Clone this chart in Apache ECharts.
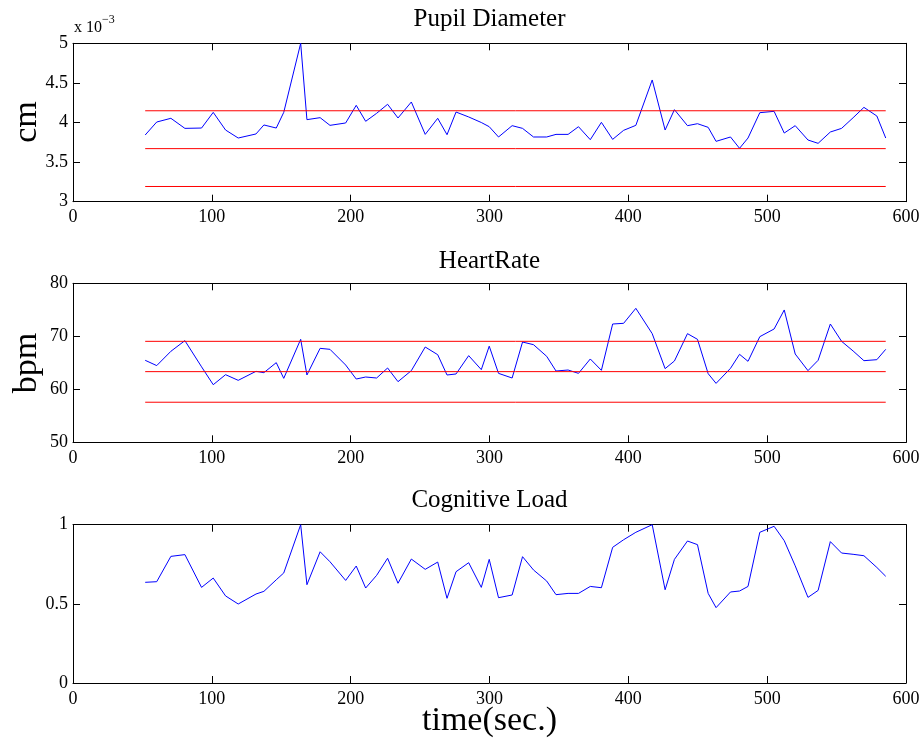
<!DOCTYPE html>
<html><head><meta charset="utf-8">
<script src="https://cdn.jsdelivr.net/npm/echarts@6/dist/echarts.min.js"></script>
<style>html,body{margin:0;padding:0;background:#fff}#c{width:924px;height:747px}</style>
</head><body><div id="c"></div>
<script>
// time stamps (seconds)
const timeSec = [52, 60.3, 70.5, 80.6, 92.6, 101, 109.9, 119, 131.8, 137.5, 146.4, 151.8, 164, 168.5, 178, 185.1, 196.4, 204, 210.8, 218.7, 226.6, 234.1, 243.7, 253.7, 262.7, 269.4, 275.9, 285, 294.1, 299.8, 306.5, 316.3, 323.8, 331.7, 341.2, 347.9, 356.6, 364.1, 372.6, 380.6, 388.7, 396.6, 405.4, 417.2, 426.5, 433.2, 442.6, 449.8, 457.5, 463.2, 473.6, 480.1, 486.2, 494.7, 505, 512.3, 520.2, 529.4, 536.7, 545.5, 553.6, 561.9, 569.7, 579, 585.4];
// pupil diameter, in units of 1e-3 cm
const pupilE3 = [3.842, 4.006, 4.053, 3.926, 3.930, 4.128, 3.905, 3.804, 3.855, 3.969, 3.930, 4.128, 5.00, 4.036, 4.061, 3.964, 3.994, 4.217, 4.015, 4.116, 4.230, 4.057, 4.259, 3.850, 4.053, 3.846, 4.132, 4.07, 4.00, 3.947, 3.817, 3.960, 3.926, 3.817, 3.817, 3.850, 3.850, 3.947, 3.783, 4.002, 3.787, 3.901, 3.964, 4.537, 3.905, 4.162, 3.960, 3.985, 3.939, 3.762, 3.817, 3.674, 3.804, 4.124, 4.141, 3.867, 3.960, 3.779, 3.737, 3.880, 3.926, 4.06, 4.191, 4.082, 3.804];
const heartRate = [65.47, 64.47, 67.17, 69.18, 64.24, 60.87, 62.76, 61.69, 63.39, 63.14, 65.03, 62.07, 69.43, 62.70, 67.73, 67.54, 64.58, 61.94, 62.32, 62.13, 64.02, 61.44, 63.52, 67.98, 66.53, 62.70, 62.89, 66.35, 63.71, 68.14, 63.01, 62.13, 68.92, 68.42, 66.22, 63.45, 63.64, 63.01, 65.72, 63.58, 72.32, 72.45, 75.28, 70.50, 63.90, 65.34, 70.50, 69.43, 62.95, 61.12, 63.96, 66.60, 65.28, 69.93, 71.38, 74.97, 66.66, 63.52, 65.47, 72.32, 69.05, 67.23, 65.40, 65.59, 67.54];
const cognitiveLoad = [0.636, 0.640, 0.800, 0.811, 0.604, 0.663, 0.550, 0.499, 0.562, 0.579, 0.652, 0.695, 1.0, 0.621, 0.829, 0.766, 0.648, 0.739, 0.600, 0.680, 0.788, 0.630, 0.783, 0.718, 0.764, 0.535, 0.703, 0.760, 0.604, 0.781, 0.539, 0.556, 0.798, 0.714, 0.644, 0.558, 0.566, 0.566, 0.610, 0.602, 0.857, 0.905, 0.952, 1.0, 0.589, 0.781, 0.897, 0.874, 0.566, 0.476, 0.575, 0.581, 0.610, 0.952, 0.990, 0.899, 0.740, 0.541, 0.585, 0.893, 0.821, 0.813, 0.804, 0.730, 0.674];
// reference levels (upper, mean, lower)
const pupilLimits = [4.148, 3.670, 3.192];
const heartLimits = [69.05, 63.33, 57.56];
// axis settings
const xRange = [0, 600, 100];
const pupilRange = [3, 5, 0.5];
const heartRange = [50, 80, 10];
const loadRange = [0, 1, 0.5];
const titles = ['Pupil Diameter', 'HeartRate', 'Cognitive Load'];
const yNames = ['cm', 'bpm', ''];
const xName = 'time(sec.)';

const FONT = 'Liberation Serif';
const grids = [
  {left: 73, top: 43.3, width: 833, height: 158.4},
  {left: 73, top: 283.3, width: 833, height: 159},
  {left: 73, top: 524.7, width: 833, height: 158.3}
];
const yRanges = [pupilRange, heartRange, loadRange];

const xAxes = [], yAxes = [], series = [];
const lineStyleAxis = {color: '#000', width: 1};
grids.forEach((g, i) => {
  xAxes.push({
    type: 'value', gridIndex: i, position: 'bottom',
    min: xRange[0], max: xRange[1], interval: xRange[2],
    axisLine: {show: true, onZero: false, lineStyle: lineStyleAxis},
    axisTick: {show: true, inside: true, length: 7, lineStyle: {color: '#000'}},
    axisLabel: {show: true, color: '#000', fontFamily: FONT, fontSize: 18, margin: 7},
    splitLine: {show: false}
  });
  xAxes.push({
    type: 'value', gridIndex: i, position: 'top',
    min: xRange[0], max: xRange[1], interval: xRange[2],
    axisLine: {show: true, onZero: false, lineStyle: lineStyleAxis},
    axisTick: {show: true, inside: true, length: 7, lineStyle: {color: '#000'}},
    axisLabel: {show: false}, splitLine: {show: false}
  });
  const r = yRanges[i];
  yAxes.push({
    type: 'value', gridIndex: i, position: 'left',
    min: r[0], max: r[1], interval: r[2],
    axisLine: {show: true, onZero: false, lineStyle: lineStyleAxis},
    axisTick: {show: true, inside: true, length: 7, lineStyle: {color: '#000'}},
    axisLabel: {show: true, color: '#000', fontFamily: FONT, fontSize: 18, margin: 5},
    splitLine: {show: false}
  });
  yAxes.push({
    type: 'value', gridIndex: i, position: 'right',
    min: r[0], max: r[1], interval: r[2],
    axisLine: {show: true, onZero: false, lineStyle: lineStyleAxis},
    axisTick: {show: true, inside: true, length: 7, lineStyle: {color: '#000'}},
    axisLabel: {show: false}, splitLine: {show: false}
  });
});

const dataSets = [pupilE3, heartRate, cognitiveLoad];
dataSets.forEach((vals, i) => {
  series.push({
    type: 'line', xAxisIndex: i * 2, yAxisIndex: i * 2,
    data: timeSec.map((t, k) => [t, vals[k]]),
    symbol: 'none', animation: false,
    lineStyle: {color: '#0000ff', width: 1}
  });
});
const t0 = timeSec[0], t1 = timeSec[timeSec.length - 1];
[[pupilLimits, 0], [heartLimits, 1]].forEach(([lims, i]) => {
  lims.forEach(v => {
    series.push({
      type: 'line', xAxisIndex: i * 2, yAxisIndex: i * 2,
      data: [[t0, v], [t1, v]],
      symbol: 'none', animation: false,
      lineStyle: {color: '#ff0000', width: 1}
    });
  });
});

const titleY = [19, 261, 500];
const graphics = [];
titles.forEach((t, i) => {
  graphics.push({type: 'text', x: 489.5, y: titleY[i],
    style: {text: t, fontFamily: FONT, fontSize: 25, fill: '#000', align: 'center', verticalAlign: 'middle'}});
});
const yNameY = [122, 363];
yNames.forEach((n, i) => {
  if (!n) return;
  graphics.push({type: 'text', x: 27, y: yNameY[i], rotation: Math.PI / 2,
    style: {text: n, fontFamily: FONT, fontSize: 34, fill: '#000', align: 'center', verticalAlign: 'middle'}});
});
graphics.push({type: 'text', x: 489.5, y: 721,
  style: {text: xName, fontFamily: FONT, fontSize: 34, fill: '#000', align: 'center', verticalAlign: 'middle'}});
graphics.push({type: 'text', x: 74, y: 28,
  style: {text: 'x 10', fontFamily: FONT, fontSize: 16, fill: '#000', align: 'left', verticalAlign: 'middle'}});
graphics.push({type: 'text', x: 102, y: 20,
  style: {text: '\u22123', fontFamily: FONT, fontSize: 12, fill: '#000', align: 'left', verticalAlign: 'middle'}});

const chart = echarts.init(document.getElementById('c'), null, {renderer: 'canvas'});
chart.setOption({
  backgroundColor: '#fff',
  animation: false,
  grid: grids,
  xAxis: xAxes,
  yAxis: yAxes,
  series: series,
  graphic: graphics
});
</script>
</body></html>
